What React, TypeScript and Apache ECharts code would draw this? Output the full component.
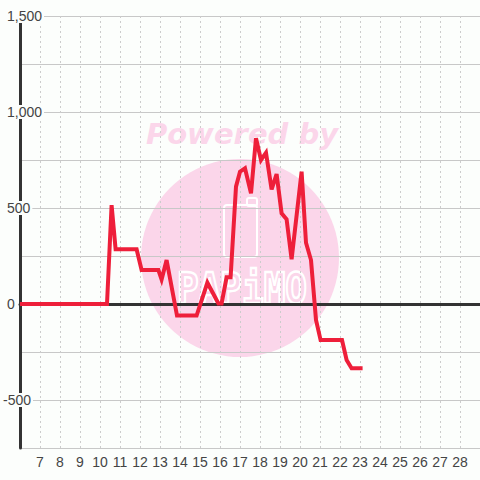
import React, { useEffect, useRef } from "react";
import * as echarts from "echarts";

// Hour of day (x) and value (y) of the line
const hours = [6, 10.35, 10.58, 10.78, 11.83, 12.08, 12.92, 13.08, 13.33, 13.85, 14.83, 15.37, 15.92, 16.08, 16.33, 16.53, 16.8, 17.0, 17.25, 17.55, 17.8, 18.05, 18.3, 18.58, 18.83, 19.08, 19.33, 19.58, 20.08, 20.3, 20.55, 20.8, 21.03, 22.1, 22.33, 22.58, 23.13];
const values = [0, 0, 515, 285, 285, 177, 177, 128, 229, -60, -60, 111, 3, 3, 139, 139, 611, 689, 707, 576, 863, 750, 788, 597, 677, 472, 441, 233, 689, 319, 229, -83, -188, -188, -292, -335, -335];

const xMin = 6;
const xMax = 29;
const yMin = -750;
const yMax = 1500;
const yStep = 250;
const yLabelStep = 500;
const watermarkTitle = "Powered by";
const watermarkBrand = "PAPiMO";

const BG = "#fcfefc";
const PINK = "#fbd6ea";
const FONT = "'Liberation Sans', Arial, sans-serif";

export default function App() {
  const ref = useRef<HTMLDivElement>(null);
  useEffect(() => {
    if (!ref.current) return;
    const chart = echarts.init(ref.current, null, { renderer: "svg" });
    const data = hours.map((h, i) => [h, values[i]]);
    const fmt = (v: number) => v.toLocaleString("en-US");
    chart.setOption({
      animation: false,
      backgroundColor: BG,
      grid: { left: 20, right: 0, top: 16, bottom: 32, containLabel: false },
      graphic: [
        { type: "circle", z: -10, shape: { cx: 240, cy: 258, r: 99 }, style: { fill: PINK } },
        {
          type: "text", z: -10, x: 242, y: 134,
          style: { text: watermarkTitle, fill: PINK, font: "italic bold 29px 'DejaVu Sans', sans-serif", align: "center", verticalAlign: "middle" },
        },
        { type: "rect", z: -9, shape: { x: 224, y: 205, width: 33, height: 52, r: 3 }, style: { fill: "none", stroke: "#fff", lineWidth: 2 } },
        { type: "rect", z: -9, shape: { x: 247, y: 198, width: 10, height: 8, r: 2 }, style: { fill: "none", stroke: "#fff", lineWidth: 2 } },
        {
          type: "text", z: -9, x: 242, y: 288, scaleY: 1.2,
          style: { text: watermarkBrand, fill: "none", stroke: "#fff", lineWidth: 2, font: "bold 36px 'DejaVu Sans Mono', monospace", align: "center", verticalAlign: "middle" },
        },
      ],
      xAxis: [
        {
          type: "value", min: xMin, max: xMax, interval: 1, position: "bottom", z: 0,
          axisLine: { show: false, onZero: false },
          axisTick: { show: false },
          axisLabel: { showMinLabel: false, showMaxLabel: false, color: "#444", fontSize: 14, fontFamily: FONT, margin: 7 },
          splitLine: { show: true, lineStyle: { color: "#cccccc", width: 1, type: [2, 3] } },
        },
        {
          type: "value", min: xMin, max: xMax, interval: 1, position: "bottom", z: 0,
          axisLine: { show: true, onZero: true, lineStyle: { color: "#333", width: 3 } },
          axisTick: { show: false },
          axisLabel: { show: false },
          splitLine: { show: false },
        },
      ],
      yAxis: [
        {
          type: "value", min: yMin, max: yMax, interval: yStep, position: "left", z: 0,
          axisLine: { show: false },
          axisTick: { show: false },
          axisLabel: { show: false },
          splitLine: { show: true, lineStyle: { color: "#c8c8c8", width: 1 } },
        },
        {
          type: "value", min: yMin, max: yMax, interval: yStep, position: "left", z: 1,
          axisLine: { show: true, onZero: false, lineStyle: { color: "#333", width: 3 } },
          axisTick: { show: false },
          splitLine: { show: false },
          axisLabel: {
            show: true, align: "left", margin: 17, color: "#444", fontSize: 14, fontFamily: FONT,
            backgroundColor: BG, padding: [0, 2, 0, 0], lineHeight: 14,
            formatter: (v: number) => (v % yLabelStep !== 0 ? "" : v < 0 ? `{n|${fmt(v)}}` : `{p|${fmt(v)}}`),
            rich: {
              p: { padding: [0, 0, 0, 4], fontSize: 14, color: "#444", fontFamily: FONT, lineHeight: 14 },
              n: { fontSize: 14, color: "#444", fontFamily: FONT, lineHeight: 14 },
            },
          },
        },
      ],
      series: [
        {
          type: "line", xAxisIndex: 0, yAxisIndex: 0, z: 2,
          data, showSymbol: false, symbol: "none",
          lineStyle: { color: "#ee1f3a", width: 4, join: "miter" },
        },
      ],
    });
    return () => chart.dispose();
  }, []);
  return <div ref={ref} style={{ position: "fixed", left: 0, top: 0, width: 480, height: 480 }} />;
}
